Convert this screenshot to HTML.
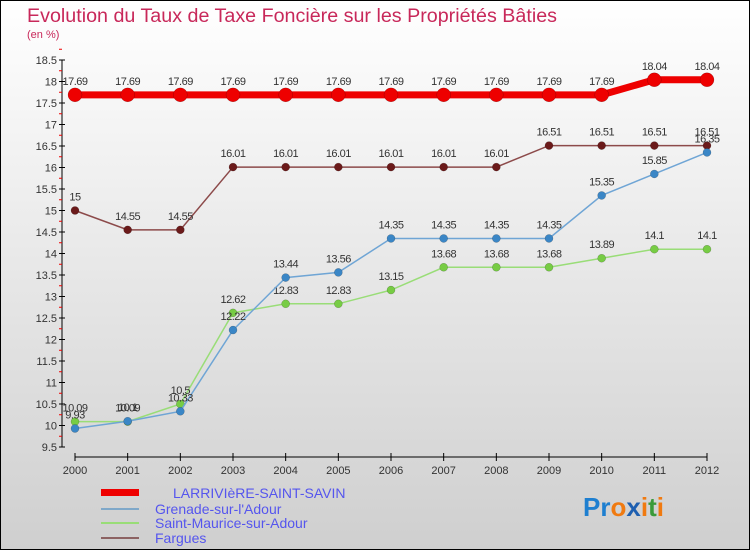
<!DOCTYPE html>
<html><head><meta charset="utf-8"><style>
body{margin:0;width:750px;height:550px;overflow:hidden;font-family:"Liberation Sans",sans-serif}
svg text{font-family:"Liberation Sans",sans-serif}
</style></head><body>
<svg id="c" width="750" height="550" xmlns="http://www.w3.org/2000/svg">
<defs><linearGradient id="bg" x1="0" y1="0" x2="0" y2="1"><stop offset="0" stop-color="#ffffff"/><stop offset="1" stop-color="#cfcfcf"/></linearGradient></defs>
<rect x="0.5" y="0.5" width="749" height="549" fill="url(#bg)" stroke="#000"/>
<text x="27" y="22" font-size="19" fill="#c8285a" textLength="530" lengthAdjust="spacingAndGlyphs">Evolution du Taux de Taxe Foncière sur les Propriétés Bâties</text>
<text x="27" y="38" font-size="11" fill="#c8285a">(en %)</text>
<g id="axes"></g><g id="series"></g>
<g>
<rect x="101" y="489" width="38" height="7" fill="#ee0000"/>
<text x="173" y="498" font-size="14" fill="#5555ee">LARRIVIèRE-SAINT-SAVIN</text>
<rect x="101" y="508" width="38" height="2" fill="#7fa8c9"/>
<text x="155" y="514" font-size="14" fill="#5555ee">Grenade-sur-l'Adour</text>
<rect x="101" y="522" width="38" height="2" fill="#99dd77"/>
<text x="155" y="528" font-size="14" fill="#5555ee">Saint-Maurice-sur-Adour</text>
<rect x="101" y="537" width="38" height="2" fill="#8c6262"/>
<text x="155" y="543" font-size="14" fill="#5555ee">Fargues</text>
</g>
<text x="583" y="516" font-size="26" font-weight="bold"><tspan fill="#1e7fd0">Pr</tspan><tspan fill="#f07a10">o</tspan><tspan fill="#1e5fb0">x</tspan><tspan fill="#f07a10">i</tspan><tspan fill="#3a9a3a">t</tspan><tspan fill="#f07a10">i</tspan></text>
</svg>
<script>
const years=[2000,2001,2002,2003,2004,2005,2006,2007,2008,2009,2010,2011,2012];
const larriviere=[17.69,17.69,17.69,17.69,17.69,17.69,17.69,17.69,17.69,17.69,17.69,18.04,18.04];
const grenade=[9.93,10.1,10.33,12.22,13.44,13.56,14.35,14.35,14.35,14.35,15.35,15.85,16.35];
const saintMaurice=[10.09,10.09,10.5,12.62,12.83,12.83,13.15,13.68,13.68,13.68,13.89,14.1,14.1];
const fargues=[15,14.55,14.55,16.01,16.01,16.01,16.01,16.01,16.01,16.51,16.51,16.51,16.51];
const yTicks=[9.5,10,10.5,11,11.5,12,12.5,13,13.5,14,14.5,15,15.5,16,16.5,17,17.5,18,18.5];
const NS="http://www.w3.org/2000/svg";
const x=i=>75+i*(632/(years.length-1));
const y=v=>447-(v-9.5)*43;
function mk(t,a,p){const e=document.createElementNS(NS,t);for(const k in a)e.setAttribute(k,a[k]);p.appendChild(e);return e;}
const ax=document.getElementById('axes');
const ya=mk('line',{x1:62,y1:y(18.5),x2:62,y2:y(9.5),stroke:'#000'},ax);


yTicks.forEach(v=>{
 mk('line',{x1:59,y1:y(v),x2:65,y2:y(v),stroke:'#000'},ax);
 mk('line',{x1:59,y1:y(v+0.25),x2:62,y2:y(v+0.25),stroke:'#e00'},ax);
 const t=mk('text',{x:57,y:y(v)+4,'font-size':11,'text-anchor':'end',fill:'#333'},ax);
 t.textContent=v;
 
 
});
const xa=mk('line',{x1:75,y1:457,x2:707,y2:457,stroke:'#000'},ax);


years.forEach((yr,i)=>{
 mk('line',{x1:x(i),y1:453,x2:x(i),y2:461,stroke:'#000'},ax);
 const t=mk('text',{x:x(i),y:474,'font-size':11,'text-anchor':'middle',fill:'#333'},ax);
 t.textContent=yr;
 
 
});
const sg=document.getElementById('series');
function series(name,vals,line,dot,w,r){
 const g=mk('g',{},sg);
 
 
 mk('polyline',{points:vals.map((v,i)=>x(i)+','+y(v)).join(' '),fill:'none',stroke:line,'stroke-width':w},g);
 vals.forEach((v,i)=>{
  const c=mk('circle',{cx:x(i),cy:y(v),r:r,fill:dot,stroke:'rgba(0,0,0,0.3)','stroke-width':0.5},g);
  
  
  const t=mk('text',{x:x(i),y:y(v)-10,'font-size':11,'text-anchor':'middle',fill:'#333','letter-spacing':'-0.5'},g);
  t.textContent=v;
  
  
 });
}
series('fargues',fargues,'#8c4a4a','#6b1a1a',1.5,4);
series('saint-maurice',saintMaurice,'#99dd77','#77cc44',1.5,4);
series('grenade',grenade,'#6fa5d5','#3a86c6',1.5,4);
series('larriviere',larriviere,'#ee0000','#ee0000',7,7);
</script>
</body></html>
